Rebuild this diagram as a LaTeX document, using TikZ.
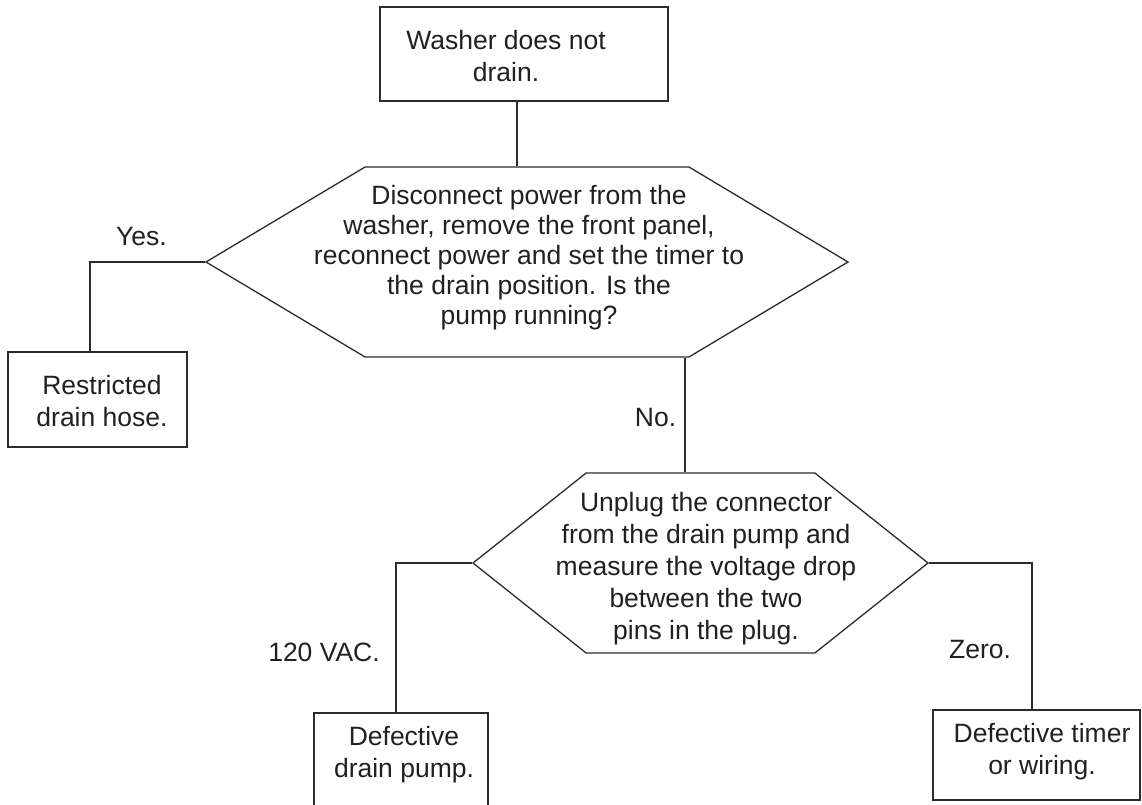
\documentclass[tikz,border=0pt]{standalone}
\usepackage{fontspec}
\setmainfont{Liberation Sans}
\usetikzlibrary{shapes.symbols}
\definecolor{ink}{HTML}{231F20}
\definecolor{linegray}{HTML}{2B2B2B}

\begin{document}
\begin{tikzpicture}[x=1pt,y=-1pt,
  every node/.style={font=\fontsize{26.5}{32}\selectfont,text=ink,align=center},
  box/.style={draw=linegray,line width=1.3pt,inner sep=0pt},
  query/.style={signal,signal to=east and west,draw=linegray,line width=1.3pt,inner sep=0pt},
  link/.style={draw=linegray,line width=1.3pt}]
\useasboundingbox (0,0) rectangle (1142,805);
\clip (0,0) rectangle (1142,805);
% outlines
\node[box,minimum width=288pt,minimum height=94pt] (start) at (524,54) {};
\node[query,signal pointer angle=61.7,minimum width=642pt,minimum height=190pt] (q1) at (527,262) {};
\node[query,signal pointer angle=77,minimum width=455pt,minimum height=180pt] (q2) at (700.5,563) {};
\node[box,minimum width=179pt,minimum height=95pt] (hose) at (97.5,399.5) {};
\node[box,minimum width=174pt,minimum height=96pt] (pump) at (401,761) {};
\node[box,minimum width=207pt,minimum height=90pt] (timer) at (1036.5,755) {};
% texts
\node (starttxt) at (506,56) {Washer does not\\drain.};
\node[font=\fontsize{26.5}{30}\selectfont] (q1txt) at (529,258) {Disconnect power from the\\washer, remove the front panel,\\reconnect power and set the timer to\\the drain position. Is the\\pump running?};
\node (q2txt) at (706,569) {Unplug the connector\\from the drain pump and\\measure the voltage drop\\between the two\\pins in the plug.};
\node (hosetxt) at (102,401) {Restricted\\drain hose.};
\node (pumptxt) at (404,755) {Defective\\drain pump.};
\node (timertxt) at (1042,752) {Defective timer\\or wiring.};
% answers
\node (yes) at (141.5,237) {Yes.};
\node (no) at (655.5,418) {No.};
\node (vac) at (324,652) {120 VAC.};
\node (zero) at (980,650) {Zero.};
% connectors
\draw[link] ([xshift=-7pt]start.south) -- ([xshift=-7pt]start.south |- q1.north);
\draw[link] ([xshift=158pt]q1.south) -- ([xshift=158pt]q1.south |- q2.north);
\draw[link] (q1.west) -| ([xshift=-7.5pt]hose.north);
\draw[link] (q2.west) -| ([xshift=-5pt]pump.north);
\draw[link] (q2.east) -| ([xshift=-4.5pt]timer.north);
\end{tikzpicture}
\end{document}
